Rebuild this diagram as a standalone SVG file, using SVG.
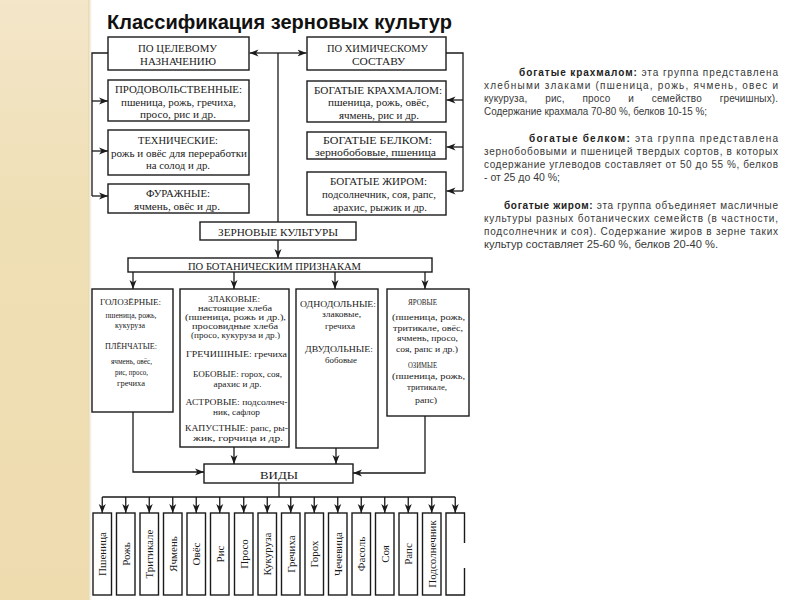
<svg xmlns="http://www.w3.org/2000/svg" width="800" height="600" viewBox="0 0 800 600">
<defs>
<linearGradient id="strip" x1="0" y1="0" x2="0" y2="1">
<stop offset="0" stop-color="#f3e6c9"/>
<stop offset="0.35" stop-color="#efdfb5"/>
<stop offset="1" stop-color="#eedcaf"/>
</linearGradient>
<linearGradient id="edge" x1="0" y1="0" x2="1" y2="0">
<stop offset="0" stop-color="#e6d6ae"/>
<stop offset="1" stop-color="#ffffff"/>
</linearGradient>
<marker id="ah" markerUnits="userSpaceOnUse" markerWidth="10" markerHeight="8" refX="9" refY="4" orient="auto">
<path d="M0,0.5 L9,4 L0,7.5 L2.5,4 z" fill="#1a1a1a"/>
</marker>
<style>
.box{fill:#fff;stroke:#1a1a1a;stroke-width:1.4}
.t{font-family:"Liberation Serif","Times New Roman",serif;fill:#1a1a1a;text-anchor:middle}
.s10{font-size:10.5px}
.s9{font-size:9px}
.s85{font-size:8.5px}
.s8{font-size:8px}
.conn{fill:none;stroke:#1a1a1a;stroke-width:1.3}
.arr{marker-end:url(#ah)}
.body{font-family:"Liberation Sans",Arial,sans-serif;font-size:10px;fill:#383838}
.v{font-family:"Liberation Serif","Times New Roman",serif;font-size:11px;fill:#1a1a1a;text-anchor:middle}
</style>
</defs>
<rect x="0" y="0" width="800" height="600" fill="#ffffff"/>
<rect x="0" y="0" width="88" height="600" fill="url(#strip)"/>
<rect x="88" y="0" width="4" height="600" fill="url(#edge)"/>

<text x="107" y="28.5" font-family="Liberation Sans, Arial, sans-serif" font-size="20" font-weight="bold" fill="#111" textLength="345" lengthAdjust="spacingAndGlyphs">Классификация зерновых культур</text>

<g id="connectors">
<path class="conn" d="M278,222 V53"/>
<path class="conn arr" d="M278,53 H249.5"/>
<path class="conn arr" d="M278,53 H306.5"/>
<path class="conn" d="M108,53 H92 V196"/>
<path class="conn arr" d="M92,101 H108"/>
<path class="conn arr" d="M92,151 H108"/>
<path class="conn arr" d="M92,196 H108"/>
<path class="conn" d="M446,53 H463 V191"/>
<path class="conn arr" d="M463,100 H446.5"/>
<path class="conn arr" d="M463,147 H446.5"/>
<path class="conn arr" d="M463,191 H446.5"/>
<path class="conn arr" d="M278,240 V258"/>
<path class="conn arr" d="M133,272 V289"/>
<path class="conn arr" d="M234,272 V289"/>
<path class="conn arr" d="M335,272 V289"/>
<path class="conn arr" d="M425,272 V289"/>
<path class="conn arr" d="M133,412 V472 H204"/>
<path class="conn arr" d="M234,447 V464"/>
<path class="conn arr" d="M336,448 V464"/>
<path class="conn arr" d="M425,416 V473 H353"/>
<path class="conn" d="M279,483 V497 M102.25,497 H455.25"/>
<path class="conn arr" d="M102.25,497 V513"/>
<path class="conn arr" d="M125.75,497 V513"/>
<path class="conn arr" d="M149.25,497 V513"/>
<path class="conn arr" d="M172.75,497 V513"/>
<path class="conn arr" d="M196.25,497 V513"/>
<path class="conn arr" d="M219.75,497 V513"/>
<path class="conn arr" d="M243.75,497 V513"/>
<path class="conn arr" d="M267.25,497 V513"/>
<path class="conn arr" d="M290.75,497 V513"/>
<path class="conn arr" d="M314.25,497 V513"/>
<path class="conn arr" d="M337.75,497 V513"/>
<path class="conn arr" d="M361.25,497 V513"/>
<path class="conn arr" d="M384.75,497 V513"/>
<path class="conn arr" d="M408.25,497 V513"/>
<path class="conn arr" d="M431.75,497 V513"/>
<path class="conn arr" d="M455.25,497 V513"/>
</g>

<g id="n-celevoe">
<rect class="box" x="108" y="37" width="141" height="33"/>
<text class="t s10" x="177.5" y="51.5" textLength="79" lengthAdjust="spacingAndGlyphs">ПО ЦЕЛЕВОМУ</text>
<text class="t s10" x="178" y="64.5" textLength="76" lengthAdjust="spacingAndGlyphs">НАЗНАЧЕНИЮ</text>
</g>
<g id="n-prod">
<rect class="box" x="108" y="80" width="141" height="41"/>
<text class="t s10" x="178.5" y="92.5" textLength="127" lengthAdjust="spacingAndGlyphs">ПРОДОВОЛЬСТВЕННЫЕ:</text>
<text class="t s10" x="178.5" y="105.5" textLength="115" lengthAdjust="spacingAndGlyphs">пшеница, рожь, гречиха,</text>
<text class="t s10" x="178" y="118" textLength="76" lengthAdjust="spacingAndGlyphs">просо, рис и др.</text>
</g>
<g id="n-tech">
<rect class="box" x="108" y="130" width="141" height="45"/>
<text class="t s10" x="178" y="143.5" textLength="80" lengthAdjust="spacingAndGlyphs">ТЕХНИЧЕСКИЕ:</text>
<text class="t s10" x="179" y="156.5" textLength="136" lengthAdjust="spacingAndGlyphs">рожь и овёс для переработки</text>
<text class="t s10" x="178" y="168.5" textLength="64" lengthAdjust="spacingAndGlyphs">на солод и др.</text>
</g>
<g id="n-furazh">
<rect class="box" x="108" y="184" width="141" height="29"/>
<text class="t s10" x="178" y="196.5" textLength="64" lengthAdjust="spacingAndGlyphs">ФУРАЖНЫЕ:</text>
<text class="t s10" x="177" y="210" textLength="86" lengthAdjust="spacingAndGlyphs">ячмень, овёс и др.</text>
</g>

<g id="n-chem">
<rect class="box" x="307" y="37" width="139" height="33"/>
<text class="t s10" x="377.5" y="51.5" textLength="101" lengthAdjust="spacingAndGlyphs">ПО ХИМИЧЕСКОМУ</text>
<text class="t s10" x="378.5" y="65" textLength="53" lengthAdjust="spacingAndGlyphs">СОСТАВУ</text>
</g>
<g id="n-krahmal">
<rect class="box" x="307" y="81" width="139" height="41"/>
<text class="t s10" x="378" y="93.5" textLength="128" lengthAdjust="spacingAndGlyphs">БОГАТЫЕ КРАХМАЛОМ:</text>
<text class="t s10" x="378.5" y="106" textLength="101" lengthAdjust="spacingAndGlyphs">пшеница, рожь, овёс,</text>
<text class="t s10" x="379" y="118.5" textLength="80" lengthAdjust="spacingAndGlyphs">ячмень, рис и др.</text>
</g>
<g id="n-belok">
<rect class="box" x="307" y="132" width="139" height="27"/>
<text class="t s10" x="377.5" y="143.5" textLength="109" lengthAdjust="spacingAndGlyphs">БОГАТЫЕ БЕЛКОМ:</text>
<text class="t s10" x="375.5" y="156" textLength="121" lengthAdjust="spacingAndGlyphs">зернобобовые, пшеница</text>
</g>
<g id="n-zhir">
<rect class="box" x="307" y="172" width="139" height="43"/>
<text class="t s10" x="378.5" y="185" textLength="97" lengthAdjust="spacingAndGlyphs">БОГАТЫЕ ЖИРОМ:</text>
<text class="t s10" x="379" y="198" textLength="114" lengthAdjust="spacingAndGlyphs">подсолнечник, соя, рапс,</text>
<text class="t s10" x="380" y="211" textLength="94" lengthAdjust="spacingAndGlyphs">арахис, рыжик и др.</text>
</g>

<g id="n-zernovye">
<rect class="box" x="200" y="222" width="156" height="18"/>
<text class="t" font-size="10" x="278" y="235.5" textLength="120" lengthAdjust="spacingAndGlyphs">ЗЕРНОВЫЕ КУЛЬТУРЫ</text>
</g>
<g id="n-botan">
<rect class="box" x="128" y="258" width="304" height="14"/>
<text class="t" font-size="10" x="274.5" y="269.5" textLength="173" lengthAdjust="spacingAndGlyphs">ПО БОТАНИЧЕСКИМ ПРИЗНАКАМ</text>
</g>

<g id="n-golozer">
<rect class="box" x="92" y="289" width="81" height="123"/>
<text class="t s9" x="130.5" y="304.5" textLength="61" lengthAdjust="spacingAndGlyphs">ГОЛОЗЁРНЫЕ:</text>
<text class="t s85" x="131" y="317.5" textLength="51" lengthAdjust="spacingAndGlyphs">пшеница, рожь,</text>
<text class="t s85" x="130" y="327.5" textLength="30" lengthAdjust="spacingAndGlyphs">кукуруза</text>
<text class="t s9" x="131" y="349" textLength="52" lengthAdjust="spacingAndGlyphs">ПЛЁНЧАТЫЕ:</text>
<text class="t s85" x="131.5" y="363.5" textLength="41" lengthAdjust="spacingAndGlyphs">ячмень, овёс,</text>
<text class="t s85" x="131.5" y="374.5" textLength="33" lengthAdjust="spacingAndGlyphs">рис, просо,</text>
<text class="t s85" x="131" y="385.5" textLength="28" lengthAdjust="spacingAndGlyphs">гречиха</text>
</g>
<g id="n-zlakovye">
<rect class="box" x="180" y="289" width="109" height="158"/>
<text class="t s9" x="234" y="301.5" textLength="52" lengthAdjust="spacingAndGlyphs">ЗЛАКОВЫЕ:</text>
<text class="t s8" x="235" y="311" textLength="74" lengthAdjust="spacingAndGlyphs">настоящие хлеба</text>
<text class="t s8" x="235.5" y="320" textLength="101" lengthAdjust="spacingAndGlyphs">(пшеница, рожь и др.),</text>
<text class="t s8" x="235" y="329" textLength="86" lengthAdjust="spacingAndGlyphs">просовидные хлеба</text>
<text class="t s8" x="235.5" y="338" textLength="89" lengthAdjust="spacingAndGlyphs">(просо, кукуруза и др.)</text>
<text class="t s9" x="236.5" y="357" textLength="101" lengthAdjust="spacingAndGlyphs">ГРЕЧИШНЫЕ: гречиха</text>
<text class="t s9" x="237.5" y="377" textLength="89" lengthAdjust="spacingAndGlyphs">БОБОВЫЕ: горох, соя,</text>
<text class="t s85" x="237.5" y="387" textLength="48" lengthAdjust="spacingAndGlyphs">арахис и др.</text>
<text class="t s9" x="236.5" y="404.5" textLength="102" lengthAdjust="spacingAndGlyphs">АСТРОВЫЕ: подсолнеч-</text>
<text class="t s85" x="236.5" y="414.5" textLength="47" lengthAdjust="spacingAndGlyphs">ник, сафлор</text>
<text class="t s9" x="236.5" y="430.5" textLength="103" lengthAdjust="spacingAndGlyphs">КАПУСТНЫЕ: рапс, ры-</text>
<text class="t s85" x="238" y="441" textLength="90" lengthAdjust="spacingAndGlyphs">жик, горчица и др.</text>
</g>
<g id="n-odnodol">
<rect class="box" x="296" y="289" width="82" height="159"/>
<text class="t s9" x="338" y="306.5" textLength="76" lengthAdjust="spacingAndGlyphs">ОДНОДОЛЬНЫЕ:</text>
<text class="t s9" x="341.5" y="317" textLength="39" lengthAdjust="spacingAndGlyphs">злаковые,</text>
<text class="t s9" x="340" y="329" textLength="30" lengthAdjust="spacingAndGlyphs">гречиха</text>
<text class="t s9" x="339" y="351.5" textLength="68" lengthAdjust="spacingAndGlyphs">ДВУДОЛЬНЫЕ:</text>
<text class="t s9" x="341" y="362.5" textLength="32" lengthAdjust="spacingAndGlyphs">бобовые</text>
</g>
<g id="n-yarovye">
<rect class="box" x="387" y="289" width="82" height="127"/>
<text class="t s9" x="422.5" y="305" textLength="29" lengthAdjust="spacingAndGlyphs">ЯРОВЫЕ</text>
<text class="t s9" x="428.5" y="319.5" textLength="73" lengthAdjust="spacingAndGlyphs">(пшеница, рожь,</text>
<text class="t s9" x="428" y="330.5" textLength="70" lengthAdjust="spacingAndGlyphs">тритикале, овёс,</text>
<text class="t s9" x="427.5" y="341" textLength="61" lengthAdjust="spacingAndGlyphs">ячмень, просо,</text>
<text class="t s9" x="427" y="351.5" textLength="62" lengthAdjust="spacingAndGlyphs">соя, рапс и др.)</text>
<text class="t s9" x="422.5" y="367.5" textLength="29" lengthAdjust="spacingAndGlyphs">ОЗИМЫЕ</text>
<text class="t s9" x="428.5" y="378.5" textLength="73" lengthAdjust="spacingAndGlyphs">(пшеница, рожь,</text>
<text class="t s9" x="427" y="389.5" textLength="40" lengthAdjust="spacingAndGlyphs">тритикале,</text>
<text class="t s9" x="426" y="402.5" textLength="22" lengthAdjust="spacingAndGlyphs">рапс)</text>
</g>

<g id="n-vidy">
<rect class="box" x="204" y="464" width="149" height="19"/>
<text class="t" font-size="10" x="279" y="478.5" textLength="38" lengthAdjust="spacingAndGlyphs">ВИДЫ</text>
</g>

<g id="n-pshenica"><rect class="box" x="93" y="513" width="18.5" height="82"/><text class="v" x="106" y="554" transform="rotate(-90 106 554)">Пшеница</text></g>
<g id="n-rozh"><rect class="box" x="116.5" y="513" width="18.5" height="82"/><text class="v" x="129.5" y="554" transform="rotate(-90 129.5 554)">Рожь</text></g>
<g id="n-tritikale"><rect class="box" x="140" y="513" width="18.5" height="82"/><text class="v" x="153" y="554" transform="rotate(-90 153 554)">Тритикале</text></g>
<g id="n-yachmen"><rect class="box" x="163.5" y="513" width="18.5" height="82"/><text class="v" x="176.5" y="554" transform="rotate(-90 176.5 554)">Ячмень</text></g>
<g id="n-oves"><rect class="box" x="187" y="513" width="18.5" height="82"/><text class="v" x="200" y="554" transform="rotate(-90 200 554)">Овёс</text></g>
<g id="n-ris"><rect class="box" x="210.5" y="513" width="18.5" height="82"/><text class="v" x="223.5" y="554" transform="rotate(-90 223.5 554)">Рис</text></g>
<g id="n-proso"><rect class="box" x="234.5" y="513" width="18.5" height="82"/><text class="v" x="247.5" y="554" transform="rotate(-90 247.5 554)">Просо</text></g>
<g id="n-kukuruza"><rect class="box" x="258" y="513" width="18.5" height="82"/><text class="v" x="271" y="554" transform="rotate(-90 271 554)">Кукуруза</text></g>
<g id="n-grechiha"><rect class="box" x="281.5" y="513" width="18.5" height="82"/><text class="v" x="294.5" y="554" transform="rotate(-90 294.5 554)">Гречиха</text></g>
<g id="n-goroh"><rect class="box" x="305" y="513" width="18.5" height="82"/><text class="v" x="318" y="554" transform="rotate(-90 318 554)">Горох</text></g>
<g id="n-chechevica"><rect class="box" x="328.5" y="513" width="18.5" height="82"/><text class="v" x="341.5" y="554" transform="rotate(-90 341.5 554)">Чечевица</text></g>
<g id="n-fasol"><rect class="box" x="352" y="513" width="18.5" height="82"/><text class="v" x="365" y="554" transform="rotate(-90 365 554)">Фасоль</text></g>
<g id="n-soya"><rect class="box" x="375.5" y="513" width="18.5" height="82"/><text class="v" x="388.5" y="554" transform="rotate(-90 388.5 554)">Соя</text></g>
<g id="n-raps"><rect class="box" x="399" y="513" width="18.5" height="82"/><text class="v" x="412" y="554" transform="rotate(-90 412 554)">Рапс</text></g>
<g id="n-podsolnechnik"><rect class="box" x="422.5" y="513" width="18.5" height="82"/><text class="v" x="435.5" y="554" transform="rotate(-90 435.5 554)">Подсолнечник</text></g>
<g id="n-empty"><path class="box" fill="none" d="M464.5,543 V513 H446 V595 H464.5 V568"/></g>

<g id="notes">
<text class="body" x="519" y="75.5" textLength="259" lengthAdjust="spacing"><tspan font-weight="bold" fill="#222">богатые крахмалом:</tspan> эта группа представлена</text>
<text class="body" x="484" y="88.5" textLength="294" lengthAdjust="spacing">хлебными злаками (пшеница, рожь, ячмень, овес и</text>
<text class="body" x="484" y="101.5" textLength="294" lengthAdjust="spacing" word-spacing="15">кукуруза, рис, просо и семейство гречишных).</text>
<text class="body" x="484" y="115" textLength="223" lengthAdjust="spacingAndGlyphs">Содержание крахмала 70-80 %, белков 10-15 %;</text>
<text class="body" x="529" y="141.5" textLength="249" lengthAdjust="spacing"><tspan font-weight="bold" fill="#222">богатые белком:</tspan> эта группа представлена</text>
<text class="body" x="484" y="155" textLength="294" lengthAdjust="spacing">зернобобовыми и пшеницей твердых сортов, в которых</text>
<text class="body" x="484" y="168" textLength="294" lengthAdjust="spacing">содержание углеводов составляет от 50 до 55 %, белков</text>
<text class="body" x="484" y="181" textLength="76" lengthAdjust="spacingAndGlyphs">- от 25 до 40 %;</text>
<text class="body" x="504" y="208.5" textLength="274" lengthAdjust="spacing"><tspan font-weight="bold" fill="#222">богатые жиром:</tspan> эта группа объединяет масличные</text>
<text class="body" x="484" y="221.5" textLength="294" lengthAdjust="spacing">культуры разных ботанических семейств (в частности,</text>
<text class="body" x="484" y="235" textLength="294" lengthAdjust="spacing">подсолнечник и соя). Содержание жиров в зерне таких</text>
<text class="body" x="484" y="247.5" textLength="234" lengthAdjust="spacingAndGlyphs">культур составляет 25-60 %, белков 20-40 %.</text>
</g>
</svg>
